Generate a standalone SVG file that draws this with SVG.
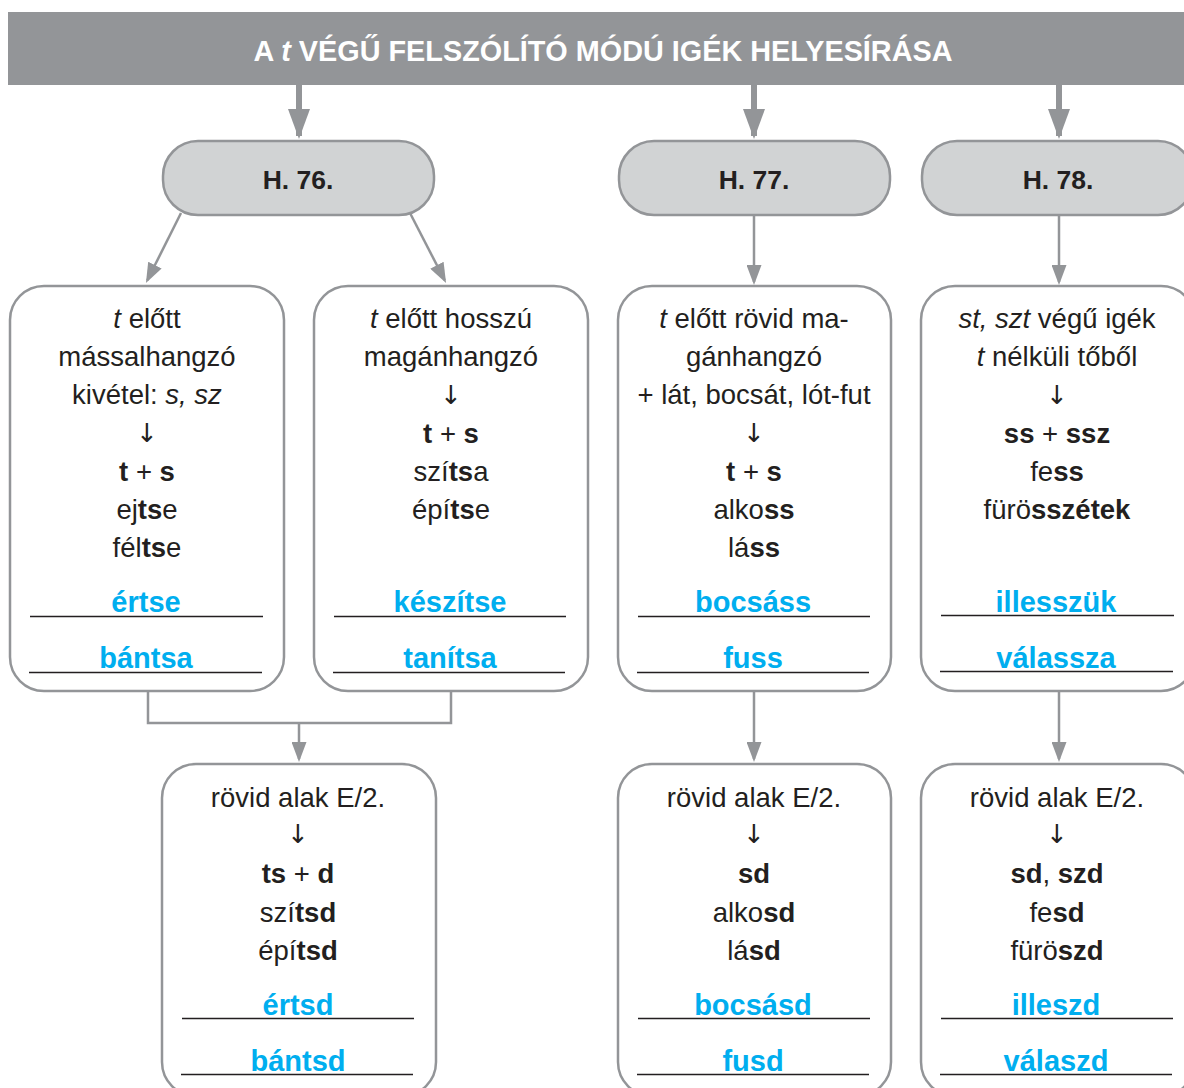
<svg xmlns="http://www.w3.org/2000/svg" width="1184" height="1088" viewBox="0 0 1184 1088">
<style>
.t{font-family:"Liberation Sans",Arial,sans-serif;font-size:27.5px;fill:#231f20;text-anchor:middle}
.ar{font-family:"DejaVu Sans",sans-serif;font-size:26px;fill:#231f20;text-anchor:middle}
.b{font-weight:bold}
.i{font-style:italic}
.bl{font-family:"Liberation Sans",Arial,sans-serif;font-size:29px;font-weight:bold;fill:#00aeef;text-anchor:middle}
.hd{font-family:"Liberation Sans",Arial,sans-serif;font-size:26.5px;font-weight:bold;fill:#231f20;text-anchor:middle}
.box{fill:#ffffff;stroke:#939598;stroke-width:2.5}
.hbox{fill:#d1d3d4;stroke:#939598;stroke-width:2.5}
.ul{stroke:#231f20;stroke-width:1.3}
.con{fill:none;stroke:#939598;stroke-width:2.5}
.big{fill:none;stroke:#939598;stroke-width:6}
</style>
<defs>
<marker id="ah" markerWidth="20" markerHeight="15" refX="17" refY="7.5" orient="auto" markerUnits="userSpaceOnUse">
<path d="M0,0 L20,7.5 L0,15 z" fill="#939598"/>
</marker>
<marker id="bh" markerWidth="30" markerHeight="22" refX="27" refY="11" orient="auto" markerUnits="userSpaceOnUse">
<path d="M0,0 L30,11 L0,22 z" fill="#939598"/>
</marker>
</defs>

<g id="title">
<rect x="8" y="12" width="1180" height="73" fill="#939598"/>
<text x="603" y="61" font-family="Liberation Sans, Arial, sans-serif" font-size="29" font-weight="bold" fill="#ffffff" text-anchor="middle" textLength="699" lengthAdjust="spacingAndGlyphs">A <tspan font-style="italic">t</tspan> VÉGŰ FELSZÓLÍTÓ MÓDÚ IGÉK HELYESÍRÁSA</text>
</g>

<g id="connectors">
<path class="big" d="M299,85 V136" marker-end="url(#bh)"/>
<path class="big" d="M754,85 V136" marker-end="url(#bh)"/>
<path class="big" d="M1059,85 V136" marker-end="url(#bh)"/>
<path class="con" d="M181,213 L147.3,280.3" marker-end="url(#ah)"/>
<path class="con" d="M410,213 L444.7,280.3" marker-end="url(#ah)"/>
<path class="con" d="M754,216 V282" marker-end="url(#ah)"/>
<path class="con" d="M1059,216 V282" marker-end="url(#ah)"/>
<path class="con" d="M148,692 V723 H451 V692"/>
<path class="con" d="M299,723 V759" marker-end="url(#ah)"/>
<path class="con" d="M754,692 V759" marker-end="url(#ah)"/>
<path class="con" d="M1059,692 V759" marker-end="url(#ah)"/>
</g>

<g id="h76">
<rect class="hbox" x="163" y="141" width="271" height="74" rx="35"/>
<text class="hd" x="298" y="189">H. 76.</text>
</g>
<g id="h77">
<rect class="hbox" x="619" y="141" width="271" height="74" rx="35"/>
<text class="hd" x="754" y="189">H. 77.</text>
</g>
<g id="h78">
<rect class="hbox" x="922" y="141" width="271" height="74" rx="35"/>
<text class="hd" x="1058" y="189">H. 78.</text>
</g>

<g id="box1">
<rect class="box" x="10" y="286" width="274" height="405" rx="34"/>
<text class="t" x="147" y="328"><tspan class="i">t</tspan> előtt</text>
<text class="t" x="147" y="366">mássalhangzó</text>
<text class="t" x="147" y="404">kivétel: <tspan class="i">s, sz</tspan></text>
<text class="ar" x="147" y="442">↓</text>
<text class="t" x="147" y="481"><tspan class="b">t</tspan> + <tspan class="b">s</tspan></text>
<text class="t" x="147" y="519">ej<tspan class="b">ts</tspan>e</text>
<text class="t" x="147" y="557">fél<tspan class="b">ts</tspan>e</text>
<text class="bl" x="146" y="612">értse</text>
<line class="ul" x1="30" y1="616.5" x2="263" y2="616.5"/>
<text class="bl" x="146" y="668">bántsa</text>
<line class="ul" x1="29" y1="672.5" x2="262" y2="672.5"/>
</g>

<g id="box2">
<rect class="box" x="314" y="286" width="274" height="405" rx="34"/>
<text class="t" x="451" y="328"><tspan class="i">t</tspan> előtt hosszú</text>
<text class="t" x="451" y="366">magánhangzó</text>
<text class="ar" x="451" y="404">↓</text>
<text class="t" x="451" y="443"><tspan class="b">t</tspan> + <tspan class="b">s</tspan></text>
<text class="t" x="451" y="481">szí<tspan class="b">ts</tspan>a</text>
<text class="t" x="451" y="519">épí<tspan class="b">ts</tspan>e</text>
<text class="bl" x="450" y="612">készítse</text>
<line class="ul" x1="334" y1="616.5" x2="566" y2="616.5"/>
<text class="bl" x="450" y="668">tanítsa</text>
<line class="ul" x1="333" y1="672.5" x2="565" y2="672.5"/>
</g>

<g id="box3">
<rect class="box" x="618" y="286" width="273" height="405" rx="34"/>
<text class="t" x="754" y="328"><tspan class="i">t</tspan> előtt rövid ma-</text>
<text class="t" x="754" y="366">gánhangzó</text>
<text class="t" x="754" y="404">+ lát, bocsát, lót-fut</text>
<text class="ar" x="754" y="442">↓</text>
<text class="t" x="754" y="481"><tspan class="b">t</tspan> + <tspan class="b">s</tspan></text>
<text class="t" x="754" y="519">alko<tspan class="b">ss</tspan></text>
<text class="t" x="754" y="557">lá<tspan class="b">ss</tspan></text>
<text class="bl" x="753" y="612">bocsáss</text>
<line class="ul" x1="638" y1="616.5" x2="870" y2="616.5"/>
<text class="bl" x="753" y="668">fuss</text>
<line class="ul" x1="637" y1="672.5" x2="869" y2="672.5"/>
</g>

<g id="box4">
<rect class="box" x="921" y="286" width="274" height="405" rx="34"/>
<text class="t" x="1057" y="328"><tspan class="i">st, szt</tspan> végű igék</text>
<text class="t" x="1057" y="366"><tspan class="i">t</tspan> nélküli tőből</text>
<text class="ar" x="1057" y="404">↓</text>
<text class="t" x="1057" y="443"><tspan class="b">ss</tspan> + <tspan class="b">ssz</tspan></text>
<text class="t" x="1057" y="481">fe<tspan class="b">ss</tspan></text>
<text class="t" x="1057" y="519">fürö<tspan class="b">sszétek</tspan></text>
<text class="bl" x="1056" y="612">illesszük</text>
<line class="ul" x1="941" y1="615.5" x2="1174" y2="615.5"/>
<text class="bl" x="1056" y="668">válassza</text>
<line class="ul" x1="940" y1="671.5" x2="1173" y2="671.5"/>
</g>

<g id="box5">
<rect class="box" x="162" y="764" width="274" height="332" rx="34"/>
<text class="t" x="298" y="807">rövid alak E/2.</text>
<text class="ar" x="298" y="843">↓</text>
<text class="t" x="298" y="883"><tspan class="b">ts</tspan> + <tspan class="b">d</tspan></text>
<text class="t" x="298" y="922">szí<tspan class="b">tsd</tspan></text>
<text class="t" x="298" y="960">épí<tspan class="b">tsd</tspan></text>
<text class="bl" x="298" y="1015">értsd</text>
<line class="ul" x1="182" y1="1018.5" x2="414" y2="1018.5"/>
<text class="bl" x="298" y="1071">bántsd</text>
<line class="ul" x1="181" y1="1074.5" x2="413" y2="1074.5"/>
</g>

<g id="box6">
<rect class="box" x="618" y="764" width="273" height="332" rx="34"/>
<text class="t" x="754" y="807">rövid alak E/2.</text>
<text class="ar" x="754" y="843">↓</text>
<text class="t" x="754" y="883"><tspan class="b">sd</tspan></text>
<text class="t" x="754" y="922">alko<tspan class="b">sd</tspan></text>
<text class="t" x="754" y="960">lá<tspan class="b">sd</tspan></text>
<text class="bl" x="753" y="1015">bocsásd</text>
<line class="ul" x1="638" y1="1018.5" x2="870" y2="1018.5"/>
<text class="bl" x="753" y="1071">fusd</text>
<line class="ul" x1="637" y1="1074.5" x2="869" y2="1074.5"/>
</g>

<g id="box7">
<rect class="box" x="921" y="764" width="274" height="332" rx="34"/>
<text class="t" x="1057" y="807">rövid alak E/2.</text>
<text class="ar" x="1057" y="843">↓</text>
<text class="t" x="1057" y="883"><tspan class="b">sd</tspan>, <tspan class="b">szd</tspan></text>
<text class="t" x="1057" y="922">fe<tspan class="b">sd</tspan></text>
<text class="t" x="1057" y="960">fürö<tspan class="b">szd</tspan></text>
<text class="bl" x="1056" y="1015">illeszd</text>
<line class="ul" x1="941" y1="1018.5" x2="1173" y2="1018.5"/>
<text class="bl" x="1056" y="1071">válaszd</text>
<line class="ul" x1="940" y1="1074.5" x2="1172" y2="1074.5"/>
</g>
</svg>
